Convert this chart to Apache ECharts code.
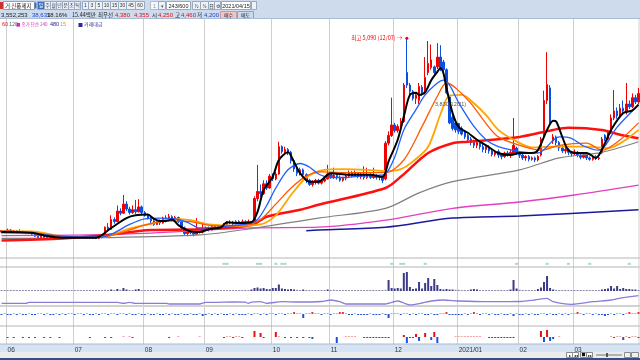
<!DOCTYPE html>
<html><head><meta charset="utf-8">
<script src="https://cdn.jsdelivr.net/npm/echarts@6/dist/echarts.min.js"></script>
<style>html,body{margin:0;padding:0;background:#fff}#c{width:640px;height:360px}</style>
</head><body><div id="c"></div>
<script>
// ---------- data ----------
const monthLabels = ['05','06','07','08','09','10','11','12','2021/01','02','03'];
const monthBarCounts = [2,22,23,20,22,19,21,21,20,18,22];

// [open, close, low, high]
const ohlc = [
[2320,2340,2300,2350],[2340,2330,2310,2350],[2330,2350,2320,2370],[2350,2330,2320,2360],[2330,2340,2310,2350],
[2340,2320,2300,2350],[2320,2330,2310,2360],[2330,2310,2300,2340],[2310,2320,2290,2330],[2320,2300,2290,2330],
[2300,2290,2270,2310],[2290,2260,2250,2300],[2260,2240,2220,2270],[2240,2260,2230,2280],[2260,2240,2230,2270],
[2240,2250,2230,2260],[2250,2240,2230,2260],[2240,2250,2230,2260],[2250,2240,2230,2260],[2240,2230,2220,2250],
[2230,2240,2220,2250],[2240,2230,2220,2250],[2230,2240,2220,2250],[2240,2230,2220,2250],[2230,2240,2220,2250],
[2240,2250,2230,2260],[2250,2240,2230,2260],[2240,2230,2220,2250],[2230,2240,2220,2250],[2240,2230,2220,2250],
[2230,2240,2220,2260],[2240,2230,2220,2250],[2230,2250,2220,2260],[2250,2260,2230,2280],[2260,2390,2250,2400],
[2390,2360,2340,2450],[2360,2500,2350,2560],[2500,2470,2440,2530],[2470,2620,2460,2700],[2620,2590,2560,2660],
[2590,2720,2580,2850],[2720,2650,2620,2760],[2650,2600,2570,2680],[2600,2640,2580,2700],[2640,2610,2580,2780],
[2610,2680,2600,2790],[2680,2600,2580,2700],[2600,2560,2540,2620],[2560,2520,2500,2580],[2520,2480,2450,2540],
[2480,2430,2410,2500],[2430,2480,2420,2500],[2480,2450,2420,2500],[2450,2520,2440,2540],[2520,2480,2460,2560],
[2480,2540,2470,2580],[2540,2490,2470,2560],[2490,2530,2480,2550],[2530,2470,2450,2540],[2470,2380,2360,2480],
[2380,2300,2280,2400],[2300,2330,2260,2350],[2330,2310,2290,2350],[2310,2290,2260,2330],[2290,2330,2280,2520],
[2330,2320,2300,2350],[2320,2360,2300,2450],[2360,2380,2340,2400],[2380,2350,2330,2400],[2350,2400,2340,2420],
[2400,2380,2360,2420],[2380,2400,2370,2430],[2400,2390,2370,2420],[2390,2430,2380,2450],[2430,2450,2420,2480],
[2450,2460,2430,2490],[2460,2440,2420,2480],[2440,2470,2430,2490],[2470,2450,2430,2490],[2450,2470,2440,2500],
[2470,2450,2430,2490],[2450,2470,2440,2500],[2470,2430,2410,2480],[2420,2800,2410,2830],[2800,2900,2760,3280],
[2900,2870,2820,3000],[2870,3010,2850,3060],[3010,2950,2920,3060],[2950,3120,2940,3150],[3120,3080,3050,3160],
[3080,3150,3060,3180],[3150,3540,3140,3610],[3540,3470,3440,3560],[3470,3500,3430,3540],[3500,3460,3420,3520],
[3460,3340,3300,3480],[3340,3220,3180,3360],[3220,3160,3120,3240],[3160,3210,3130,3240],[3210,3140,3100,3230],
[3140,3060,3020,3160],[3060,3000,2980,3080],[3000,3030,2970,3060],[3030,3060,3000,3080],[3060,3020,3000,3080],
[3020,3050,3000,3080],[3050,3080,3030,3110],[3080,3150,3070,3280],[3150,3110,3080,3170],[3110,3130,3080,3240],
[3130,3100,3070,3150],[3100,3060,3040,3130],[3060,3090,3040,3110],[3090,3120,3060,3140],[3120,3170,3100,3200],
[3170,3120,3100,3190],[3120,3170,3110,3200],[3170,3110,3090,3180],[3110,3130,3080,3170],[3130,3100,3070,3260],
[3100,3140,3080,3240],[3140,3100,3080,3160],[3100,3130,3080,3240],[3130,3100,3070,3150],[3100,3110,3060,3140],
[3110,3060,3020,3120],[3080,3590,3060,3620],[3590,3700,3560,3760],[3700,3850,3680,4240],[3850,3770,3740,3880],
[3770,3830,3740,3860],[3830,3900,3800,3950],[3900,4420,3880,4450],[4600,4420,4380,5090],[4420,4330,4280,4450],
[4330,4230,4200,4350],[4230,4280,4150,4320],[4200,4400,4150,4450],[4390,4300,4270,4420],[4310,4530,4290,4820],
[4600,4730,4560,5050],[4670,4780,4640,5000],[4680,4600,4570,4700],[4680,4820,4650,5020],[4820,4640,4620,4990],
[4750,4640,4600,4780],[4640,4310,4290,4660],[4250,3880,3860,4270],[3960,3800,3770,3990],[3880,3780,3740,3900],
[3870,3760,3720,3880],[3800,3720,3700,3830],[3760,3680,3650,3780],[3700,3640,3620,3720],[3650,3600,3560,3680],
[3600,3560,3520,3640],[3560,3600,3520,3640],[3600,3540,3500,3620],[3540,3500,3460,3580],[3500,3540,3450,3560],
[3540,3480,3440,3560],[3480,3430,3400,3520],[3430,3470,3400,3490],[3470,3420,3380,3500],[3420,3400,3360,3440],
[3400,3450,3380,3470],[3450,3420,3400,3480],[3420,3460,3380,3500],[3440,3560,3420,3950],[3520,3450,3420,3540],
[3450,3420,3380,3470],[3420,3380,3350,3440],[3380,3400,3340,3420],[3400,3360,3330,3420],[3360,3380,3340,3400],
[3380,3350,3320,3400],[3350,3400,3330,3420],[3420,3650,3400,3680],[3700,4200,3680,4340],[4200,4430,4150,4890],
[4380,3880,3850,4420],[3620,3680,3580,3720],[3680,3600,3560,3700],[3600,3520,3480,3620],[3520,3480,3450,3560],
[3480,3500,3440,3540],[3500,3460,3420,3520],[3460,3440,3400,3480],[3440,3460,3420,3500],[3460,3420,3390,3480],
[3420,3390,3360,3440],[3390,3420,3370,3440],[3420,3380,3350,3440],[3380,3360,3340,3400],[3360,3400,3340,3420],
[3400,3370,3350,3420],[3370,3380,3350,3400],[3450,3650,3440,3680],[3700,3650,3620,3720],[3650,3750,3630,3780],
[3750,3950,3720,4000],[3950,4050,3920,4350],[4050,3980,3940,4100],[3980,4090,3960,4150],[4090,4050,4020,4200],
[4050,4150,4000,4450],[4150,4110,4080,4200],[4110,4240,4090,4300],[4240,4180,4150,4280],[4180,4300,4150,4380]
];

// moving averages: [barIndex, price]
const ma5 = [[0,2320],[10,2310],[14,2270],[20,2240],[31,2240],[36,2380],[41,2520],[44,2560],[48,2570],[50,2510],[52,2480],[54,2480],[56,2500],[58,2420],[62,2330],[65,2320],[68,2360],[72,2390],[74,2460],[78,2450],[82,2460],[84,2610],[86,2920],[89,3110],[91,3350],[94,3460],[96,3320],[98,3160],[101,3040],[104,3040],[108,3160],[114,3140],[121,3140],[125,3110],[127,3330],[130,3640],[132,3970],[134,4280],[136,4310],[137,4280],[139,4320],[141,4490],[143,4610],[144,4660],[145,4590],[146,4380],[148,4020],[150,3820],[153,3740],[156,3640],[159,3560],[163,3450],[167,3420],[170,3450],[174,3450],[176,3490],[179,3780],[181,3910],[182,3900],[184,3680],[186,3490],[189,3450],[192,3450],[195,3380],[198,3590],[200,3780],[204,4020],[207,4060],[209,4140]];
const ma10 = [[0,2320],[10,2310],[15,2280],[25,2250],[33,2250],[37,2310],[42,2430],[47,2510],[52,2520],[57,2510],[61,2460],[65,2380],[69,2380],[75,2410],[81,2440],[84,2500],[87,2700],[90,2950],[94,3210],[98,3300],[101,3250],[104,3150],[108,3100],[113,3100],[118,3120],[123,3130],[126,3150],[129,3390],[132,3780],[136,4070],[139,4280],[143,4450],[145,4490],[147,4420],[150,4170],[155,3830],[159,3640],[163,3540],[170,3470],[176,3450],[183,3680],[187,3660],[191,3550],[196,3490],[202,3820],[209,4140]];
const ma20 = [[0,2310],[12,2300],[22,2250],[33,2250],[40,2320],[47,2420],[55,2480],[62,2470],[70,2410],[80,2420],[85,2500],[90,2720],[95,2950],[100,3120],[105,3180],[112,3170],[120,3170],[126,3170],[132,3350],[138,3830],[143,4260],[146,4450],[149,4380],[154,4160],[159,3870],[163,3680],[170,3560],[177,3490],[183,3560],[192,3590],[197,3490],[203,3640],[209,3880]];
const ma15 = [[0,2330],[10,2330],[20,2260],[33,2250],[42,2370],[50,2450],[56,2510],[62,2490],[68,2430],[78,2410],[85,2430],[90,2560],[95,2850],[100,3100],[105,3200],[112,3220],[120,3210],[126,3190],[131,3220],[135,3330],[140,3540],[144,4000],[147,4270],[151,4280],[155,4160],[159,3990],[163,3780],[168,3640],[174,3530],[181,3540],[192,3540],[199,3520],[209,3780]];
const ma60 = [[0,2200],[20,2230],[33,2270],[49,2350],[65,2360],[82,2420],[87,2540],[98,2640],[104,2710],[126,2950],[131,3110],[140,3450],[148,3590],[153,3610],[170,3680],[181,3780],[186,3810],[197,3780],[203,3710],[209,3660]];
const ma120 = [[0,2230],[33,2240],[65,2280],[82,2370],[104,2520],[126,2660],[137,2880],[148,3040],[170,3210],[183,3380],[197,3460],[209,3610]];
const ma240 = [[0,2270],[40,2290],[82,2380],[104,2390],[126,2490],[148,2660],[170,2750],[188,2850],[209,2990]];
const ma480 = [[100,2340],[104,2350],[126,2390],[148,2520],[170,2550],[209,2640]];

// trading value (thousand units)
const volume = [
50,60,50,40,50,60,50,40,50,50, 60,70,50,40,50,50,40,40,50,40,
40,50,40,40,50,40,40,50,40,40, 50,40,50,60,120,90,150,80,200,120,
300,150,100,90,150,200,100,80,70,90, 80,70,90,60,80,90,70,60,70,90,
100,70,60,60,120,60,80,60,50,60, 50,60,50,70,80,60,50,60,50,60,
60,70,150,300,350,250,300,200,180,300, 300,650,250,200,150,200,150,120,110,150,
100,90,80,80,70,80,90,150,100,120, 90,80,80,70,90,80,100,70,80,100,
90,80,100,70,60,90,120,1100,300,250, 300,250,1800,1900,400,200,250,900,250,800,
1300,500,1200,600,200,150,200,150,150,120, 120,100,100,90,150,200,150,100,90,80,
80,70,70,60,70,80,90,150,1100,250, 120,100,90,80,70,80,200,350,900,1500,
300,150,120,100,90,80,70,70,80,60, 60,70,60,50,60,70,60,150,200,250,
500,250,500,200,300,200,200,150,150,100
];
// second volume-panel line: [barIndex, value]
const volLine = [[0,2.7],[8,2.7],[9,3.7],[38,3.7],[40,2.7],[42,3.7],[44,2.7],[54,2.7],[55,2],[65,2],[67,3.7],[70,3.7],[76,4],[80,3.8],[81,2.7],[82,3.8],[85,4.3],[87,2.7],[92,4.3],[97,4],[105,4.5],[108,6],[111,4.3],[113,2],[126,2],[130,5],[132,3],[134,1],[138,3],[141,5],[145,6],[150,5],[160,4.3],[170,4.5],[175,6],[179,7.6],[181,4.3],[187,1.7],[194,4.3],[200,6],[204,8.3],[209,10.3]];
// signal markers (bar indices)
const signalBars = [73,74,84,85,90,92,93,128,131,132,139,169,179,186,193,206];
// net flow panel
const flowC = [
-1,1,-1,-1,1,-1,1,-1,-1,1, -1,-1,1,1,-1,1,-1,-1,1,-1, 1,-1,0,1,-1,1,1,-1,1,-1,
-1,1,-1,1,1,-1,1,1,-1,1, 1,-1,1,-1,-1,1,-1,-1,1,-1, -1,1,-1,-1,1,-1,1,-1,-1,1,
-1,-1,1,-1,-1,1,-2,-1,1,-1, 1,-1,1,-1,-1,1,-1,1,-1,-1, -1,1,-1,1,1,-1,1,-1,1,1,
-1,1,1,-1,1,1,2,1,1,-4, 1,1,2,1,1,-1,1,1,-1,1, 1,2,2,1,-1,-1,1,-1,-1,-1,
-1,1,-1,-1,-1,1,-1,-4,1,1, 1,-1,1,1,-1,1,-1,1,1,-1, -1,1,-1,-1,1,1,2,-1,-1,-1,
-1,-1,1,-1,1,2,1,-1,1,1, -1,1,-1,-1,1,-1,-1,1,-2,1, -1,-1,1,-1,1,-1,-1,1,1,-1,
1,-1,-1,1,-1,1,-1,1,1,2, 1,-1,1,1,-1,1,-1,-1,-2,-1, 1,-1,1,1,-1,1,2,1,1,2
];
const n = null;
const flowD = [
n,n,-1,n,-1,n,n,-1,n,-1, n,-1,n,n,-1,n,-1,n,n,-1,
n,n,n,n,n,n,n,n,n,-1, n,n,n,n,-1,n,-1,n,n,n,
1,n,1,-1,n,n,n,n,n,n, n,n,n,n,n,-1,n,n,1,n,
n,n,n,n,n,1,n,n,n,n, n,n,n,-1,1,1,-1,1,1,-1,
n,n,n,6,n,4,-1,n,n,n, 5,1,n,-1,n,-1,n,-1,n,-1,
n,-1,-2,n,n,n,n,n,n,n, -6,n,n,1,1,1,1,n,n,-1,
-1,-1,-1,-1,-1,-1,-1,-1,n,n, n,n,2,-6,-1,-1,3,-4,n,4,
n,-3,5,-6,n,n,n,n,n,1, 1,1,1,1,1,1,1,1,n,n,
-1,-1,-1,-1,-1,-1,-1,-1,-1,n, n,n,n,n,n,n,n,6,-5,7,
-4,-2,n,1,n,n,n,n,n,n, n,n,n,n,n,n,n,n,n,n,
1,-1,1,1,-3,1,-1,1,1,-1
];

// ---------- categories ----------
const categories = [];
const monthStarts = new Set();
monthLabels.forEach((m, mi) => {
  for (let k = 0; k < monthBarCounts[mi]; k++) {
    if (k === 0) monthStarts.add(categories.length);
    categories.push(m + '|' + (k + 1));
  }
});

// ---------- layout ----------
const FONT = '"Noto Sans CJK KR", "Noto Sans", sans-serif';
const NUMFONT = '"Liberation Sans Narrow", "Liberation Sans", "Noto Sans CJK KR", sans-serif';
const grids = [
  {top: 20, height: 238},   // 0 main
  {top: 19, height: 325},   // 1 background split lines
  {top: 258, height: 9},    // 2 signals
  {top: 267, height: 24},   // 3 volume
  {top: 293, height: 13},   // 4 volume line
  {top: 307, height: 19},   // 5 flow C
  {top: 326, height: 18},   // 6 flow D
];
const grid = grids.map(g => ({left: -1, width: 641, top: g.top, height: g.height, containLabel: false}));

const xAxis = grids.map((g, i) => ({
  type: 'category', gridIndex: i, data: categories, boundaryGap: true,
  axisLine: {show: false}, axisTick: {show: false},
  axisLabel: i === 6 ? {
    show: true, interval: (idx) => monthStarts.has(idx) && idx > 0,
    formatter: v => v.split('|')[0], align: 'left', fontSize: 6.5, color: '#333',
    margin: 3, fontFamily: 'Liberation Sans'
  } : {show: false},
  splitLine: i === 1 ? {show: true, interval: (idx) => monthStarts.has(idx) && idx > 0,
    lineStyle: {color: '#cfcfcf', width: 1}} : {show: false},
  z: i === 6 ? 20 : 0
}));
const yRanges = [[1950,5350],[0,1],[0,1],[0,2400],[0,13],[-12,7],[-7,11]];
const yAxis = yRanges.map((r, i) => ({type: 'value', gridIndex: i, min: r[0], max: r[1], show: false, splitLine: {show: false}}));

function maLine(data, color, width, z) {
  return {type: 'line', xAxisIndex: 0, yAxisIndex: 0, data, showSymbol: false, smooth: 0.3,
    lineStyle: {color, width}, z: z || 3, silent: true, connectNulls: true};
}

const series = [
  {type: 'candlestick', xAxisIndex: 0, yAxisIndex: 0, data: ohlc, barWidth: 2, z: 2,
    itemStyle: {color: '#f00000', color0: '#0a4fe0', borderColor: '#f00000', borderColor0: '#0a4fe0', borderWidth: 1},
    markPoint: {symbol: 'circle', symbolSize: 3, itemStyle: {color: '#f00000'},
      data: [{coord: [133, 5090], label: {show: true, position: 'left', distance: 3, formatter: '최고 5,090 (12/07) →', color: '#f00000', fontSize: 5.5, fontFamily: FONT}}]}},
  maLine(ma480, '#1a1a9c', 1.5),
  maLine(ma240, '#e040c0', 1.3),
  maLine(ma120, '#808080', 1.2),
  maLine(ma60, '#ff1010', 2.5),
  maLine(ma15, '#ffa500', 1.8, 4),
  maLine(ma20, '#ff5a00', 1.3, 4),
  maLine(ma10, '#1f5fff', 1.3, 4),
  maLine(ma5, '#000000', 2, 5),
  {type: 'scatter', xAxisIndex: 2, yAxisIndex: 2, data: signalBars.map(i => [i, 0.35]), symbol: 'rect', symbolSize: [3, 2], itemStyle: {color: '#86d4b8'}, silent: true},
  {type: 'bar', xAxisIndex: 3, yAxisIndex: 3, data: volume, barWidth: 2, barMinHeight: 1, silent: true,
    itemStyle: {color: p => p.value < 150 ? '#8a8aa8' : '#3a3a88'}},
  {type: 'line', xAxisIndex: 4, yAxisIndex: 4, data: volLine, showSymbol: false, smooth: 0.2, lineStyle: {color: '#8c7cd8', width: 1.3}, silent: true},
  {type: 'bar', xAxisIndex: 5, yAxisIndex: 5, data: flowC, barWidth: 2, barMinHeight: 1, silent: true,
    itemStyle: {color: p => p.value >= 0 ? (p.value > 1 ? '#f03030' : '#f29a9a') : '#2050d8'}},
  {type: 'bar', xAxisIndex: 6, yAxisIndex: 6, data: flowD, barWidth: 2, silent: true,
    itemStyle: {color: p => p.value >= 0 ? (p.value > 1 ? '#e81010' : '#f4a3a3') : '#1d4fe0'}},
];

// ---------- toolbar / frame graphics ----------
const G = [];
function rect(x, y, w, h, fill, stroke, z) {
  G.push({type: 'rect', shape: {x, y, width: w, height: h}, style: {fill, stroke: stroke || null, lineWidth: stroke ? 1 : 0}, z: z == null ? 50 : z, silent: true});
}
function txt(x, y, s, fill, size, align, z, font) {
  G.push({type: 'text', x, y, style: {text: s, fill, font: (size || 6) + 'px ' + (font || FONT), textAlign: align || 'left', textVerticalAlign: 'middle'}, z: z == null ? 60 : z, silent: true});
}
function hline(y, x1, x2, color, w, z) {
  G.push({type: 'line', shape: {x1, y1: y, x2, y2: y}, style: {stroke: color, lineWidth: w || 1}, z: z == null ? 1 : z, silent: true});
}
// header
rect(0, 0, 640, 19, '#cddbed', null, 50);
hline(18.5, 0, 640, '#a9bcd6', 1, 51);
rect(0, 2, 3, 7, '#c83232');
rect(3.5, 1.5, 31, 8, '#ffffff', '#8ea3bf');
txt(5, 6, '거 신풍제지', '#222', 5.5);
rect(34.5, 2.5, 2, 6, '#3c6cc4');
const tfBtns = [['일',37,7,true],['주',44,6],['월',50,6],['년',56,6],['분',62,6],['초',68,6],['틱',74,6],
  ['1',82,6],['3',88,7],['5',95,7],['10',102,8],['15',110,8],['30',118,8],['45',126,9],['60',135,9]];
tfBtns.forEach(b => {
  rect(b[1] + 0.5, 1.5, b[2], 8, b[3] ? '#3c6cc4' : '#eef2f8', '#98a9c2');
  txt(b[1] + 0.5 + b[2] / 2, 6, b[0], b[3] ? '#fff' : '#333', 5, 'center', 60, NUMFONT);
});
rect(150.5, 1.5, 8, 8, '#f4f6f9', '#b0bccc'); txt(154.5, 6, '1', '#999', 5.5, 'center', 60, NUMFONT);
rect(158.5, 1.5, 7, 8, '#eef2f8', '#98a9c2'); txt(162, 6, '▾', '#555', 5, 'center');
rect(166.5, 1.5, 24, 8, '#ffffff', '#98a9c2'); txt(178.5, 6, '243/600', '#222', 5.5, 'center', 60, NUMFONT);
[['½',192,8],['¼',200,8],['日',208,6],['⚙',214,6]].forEach(b => {
  rect(b[1] + 0.5, 1.5, b[2], 8, '#eef2f8', '#98a9c2'); txt(b[1] + 0.5 + b[2] / 2, 6, b[0], '#333', 5, 'center');
});
rect(221.5, 1.5, 29, 8, '#ffffff', '#98a9c2'); txt(236, 6, '2021/04/15', '#222', 5.5, 'center', 60, NUMFONT);
rect(251.5, 1.5, 5, 8, '#eef2f8', '#98a9c2');
// row 2
txt(1, 15, '3,552,253', '#222', 6, 'left', 60, NUMFONT);
txt(32, 15, '38,633', '#1d3fd0', 6, 'left', 60, NUMFONT);
txt(47, 15, '18.16%', '#222', 6, 'left', 60, NUMFONT);
txt(72, 15, '15.44백만', '#222', 5.5);
txt(98, 15, '최우선', '#222', 5.5);
txt(115, 15, '4,380', '#e01010', 6, 'left', 60, NUMFONT);
txt(134, 15, '4,355', '#e01010', 6, 'left', 60, NUMFONT);
txt(152, 15, '시', '#222', 5.5);
txt(158, 15, '4,250', '#e01010', 6, 'left', 60, NUMFONT);
txt(175, 15, '고', '#222', 5.5);
txt(181, 15, '4,460', '#e01010', 6, 'left', 60, NUMFONT);
txt(197, 15, '저', '#222', 5.5);
txt(204, 15, '4,200', '#1d3fd0', 6, 'left', 60, NUMFONT);
rect(220.5, 11.5, 16, 7, '#f4c4c4', '#c89a9a'); txt(228.5, 15, '매수', '#222', 5, 'center');
rect(237.5, 11.5, 16, 7, '#c9daf0', '#8ea3bf'); txt(245.5, 15, '매도', '#222', 5, 'center');
// legend row
txt(2, 24, '60', '#f01010', 5.5, 'left', 60, NUMFONT);
txt(9, 24, '120', '#666', 5.5, 'left', 60, NUMFONT);
txt(16, 24, '■ 종가 단순 240', '#d030b0', 4.5, 'left', 60);
txt(50, 24, '480', '#1a1a9c', 5.5, 'left', 60, NUMFONT);
txt(60, 24, '15', '#ff8c00', 5.5, 'left', 60, NUMFONT);
txt(78, 24, '■ 거래대금', '#2a2aa0', 5, 'left', 60);
txt(435, 104, '3,830(12/21)', '#555', 5.5, 'left', 60, NUMFONT);
// panel separators
hline(258, 0, 640, '#b4b4b4', 1);
hline(267, 0, 640, '#b4b4b4', 1);
hline(306, 0, 640, '#d2d2d2', 2);
hline(326, 0, 640, '#b4b4b4', 1);
G.push({type: 'line', shape: {x1: 639, y1: 19, x2: 639, y2: 344}, style: {stroke: '#cfcfcf', lineWidth: 1}, z: 1, silent: true});
// axis label band and scroll bar
rect(0, 344, 640, 8, '#d6e3f3', null, 1);
hline(344, 0, 640, '#aab8cc', 1, 2);
rect(0, 352, 640, 6, '#ececec', null, 1);
rect(0, 358, 640, 2, '#2f4f86', null, 1);
[[566,'▸'],[572,'◂◂'],[580,'■'],[586,'▸▸']].forEach(b => {
  rect(b[0] + 0.5, 352.5, 6, 5, '#ffffff', '#8a8a8a', 2); txt(b[0] + 3.5, 355, b[1], '#111', 4, 'center', 3);
});
hline(355, 596, 622, '#777', 1, 2);
rect(606, 353, 2, 4, '#555', null, 2);
rect(624.5, 352.5, 6, 5, '#f0f0f0', '#8a8a8a', 2);
rect(631.5, 352.5, 7, 5, '#f0f0f0', '#8a8a8a', 2);

const chart = echarts.init(document.getElementById('c'), null, {renderer: 'canvas'});
chart.setOption({
  animation: false,
  backgroundColor: '#ffffff',
  textStyle: {fontFamily: FONT},
  grid, xAxis, yAxis, series, graphic: G
});
</script>
</body></html>
